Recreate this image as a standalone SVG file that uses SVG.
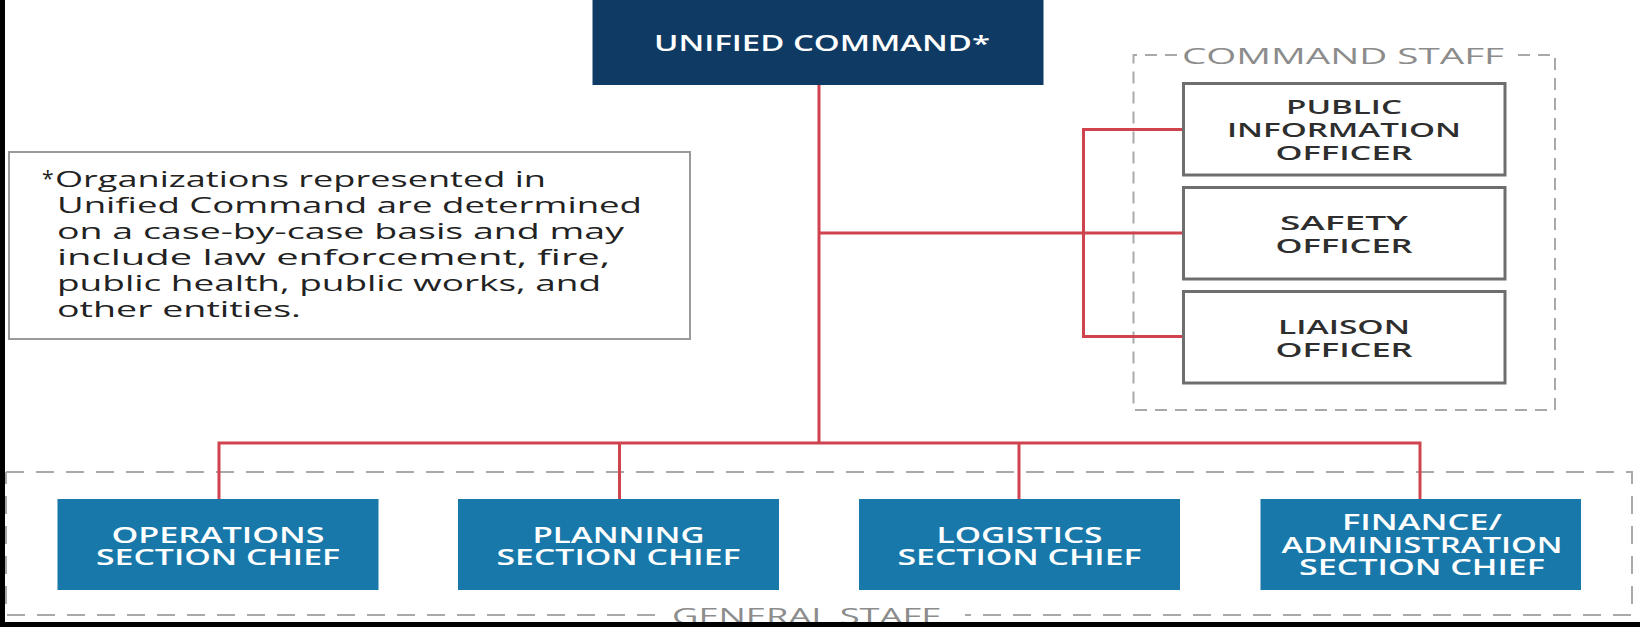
<svg xmlns="http://www.w3.org/2000/svg" width="1640" height="627" viewBox="0 0 1640 627">
<style>
.bg{fill:#ffffff}
.dash{fill:none;stroke:#a9a9a9;stroke-width:2}
.grp{font-family:"Open Sans","Liberation Sans",sans-serif;font-size:22px;fill:#8c8c8c;text-anchor:middle}
.conn{fill:none;stroke:#cf434e;stroke-width:3}
.uc{fill:#0e3a63}
.sec{fill:#1878aa}
.off{fill:#ffffff;stroke:#6e6e6e;stroke-width:3}
.wt{font-family:"Open Sans","Liberation Sans",sans-serif;font-weight:600;font-size:21px;fill:#ffffff;text-anchor:middle}
.dt{font-family:"Open Sans","Liberation Sans",sans-serif;font-weight:600;font-size:20px;fill:#2e2e2e;text-anchor:middle}
.note{fill:#ffffff;stroke:#9a9a9a;stroke-width:2}
.nt{font-family:"Open Sans","Liberation Sans",sans-serif;font-size:21px;fill:#222222}
</style>
<rect class="bg" x="0" y="0" width="1640" height="627"/>

<g id="general-staff">
  <path class="dash" d="M6,472 H1632 V615 H965 M655,615 H6 V472" stroke-dasharray="18,12"/>
  <text class="grp" x="806" y="624" textLength="268" lengthAdjust="spacingAndGlyphs">GENERAL STAFF</text>
</g>

<g id="command-staff">
  <path class="dash" d="M1177,55 H1133.5 V410 H1555 V55 H1510" stroke-dasharray="12,8"/>
  <text class="grp" x="1343" y="64" textLength="322" lengthAdjust="spacingAndGlyphs">COMMAND STAFF</text>
</g>

<g id="connectors">
  <path class="conn" d="M819,85 V443"/>
  <path class="conn" d="M219,499 V443 H1420 V499"/>
  <path class="conn" d="M619.5,443 V499"/>
  <path class="conn" d="M1019,443 V499"/>
  <path class="conn" d="M819,233 H1183"/>
  <path class="conn" d="M1183,129.5 H1083.5 V336.5 H1183"/>
</g>

<g id="unified-command">
  <rect class="uc" x="592.5" y="0" width="451" height="85"/>
  <text class="wt" x="822" y="50.5" textLength="336" lengthAdjust="spacingAndGlyphs">UNIFIED COMMAND*</text>
</g>

<g id="note">
  <rect class="note" x="9" y="152" width="681" height="187"/>
  <text class="nt" x="42" y="186" font-size="15">*</text>
  <text class="nt" x="55" y="187" textLength="491" lengthAdjust="spacingAndGlyphs">Organizations represented in</text>
  <text class="nt" x="57" y="213" textLength="585" lengthAdjust="spacingAndGlyphs">Unified Command are determined</text>
  <text class="nt" x="57" y="239" textLength="567" lengthAdjust="spacingAndGlyphs">on a case-by-case basis and may</text>
  <text class="nt" x="57" y="265" textLength="553" lengthAdjust="spacingAndGlyphs">include law enforcement, fire,</text>
  <text class="nt" x="57" y="291" textLength="544" lengthAdjust="spacingAndGlyphs">public health, public works, and</text>
  <text class="nt" x="57" y="317" textLength="244" lengthAdjust="spacingAndGlyphs">other entities.</text>
</g>

<g id="public-information-officer">
  <rect class="off" x="1183.5" y="83.5" width="321.5" height="91.5"/>
  <text class="dt" x="1344" y="113.5" textLength="116" lengthAdjust="spacingAndGlyphs">PUBLIC</text>
  <text class="dt" x="1344" y="136.5" textLength="234" lengthAdjust="spacingAndGlyphs">INFORMATION</text>
  <text class="dt" x="1344" y="159.5" textLength="137" lengthAdjust="spacingAndGlyphs">OFFICER</text>
</g>

<g id="safety-officer">
  <rect class="off" x="1183.5" y="187.5" width="321.5" height="91.5"/>
  <text class="dt" x="1344" y="229.5" textLength="128" lengthAdjust="spacingAndGlyphs">SAFETY</text>
  <text class="dt" x="1344" y="252.5" textLength="137" lengthAdjust="spacingAndGlyphs">OFFICER</text>
</g>

<g id="liaison-officer">
  <rect class="off" x="1183.5" y="291.5" width="321.5" height="91.5"/>
  <text class="dt" x="1344" y="333.5" textLength="132" lengthAdjust="spacingAndGlyphs">LIAISON</text>
  <text class="dt" x="1344" y="356.5" textLength="137" lengthAdjust="spacingAndGlyphs">OFFICER</text>
</g>

<g id="operations-section-chief">
  <rect class="sec" x="57.5" y="499" width="321" height="91"/>
  <text class="wt" x="218" y="542.5" textLength="213" lengthAdjust="spacingAndGlyphs">OPERATIONS</text>
  <text class="wt" x="218" y="565" textLength="244" lengthAdjust="spacingAndGlyphs">SECTION CHIEF</text>
</g>

<g id="planning-section-chief">
  <rect class="sec" x="458" y="499" width="321" height="91"/>
  <text class="wt" x="618.5" y="542.5" textLength="172" lengthAdjust="spacingAndGlyphs">PLANNING</text>
  <text class="wt" x="618.5" y="565" textLength="244" lengthAdjust="spacingAndGlyphs">SECTION CHIEF</text>
</g>

<g id="logistics-section-chief">
  <rect class="sec" x="859" y="499" width="321" height="91"/>
  <text class="wt" x="1019.5" y="542.5" textLength="166" lengthAdjust="spacingAndGlyphs">LOGISTICS</text>
  <text class="wt" x="1019.5" y="565" textLength="244" lengthAdjust="spacingAndGlyphs">SECTION CHIEF</text>
</g>

<g id="finance-administration-section-chief">
  <rect class="sec" x="1260.5" y="499" width="320.5" height="91"/>
  <text class="wt" x="1422" y="530" textLength="160" lengthAdjust="spacingAndGlyphs">FINANCE/</text>
  <text class="wt" x="1422" y="552.5" textLength="281" lengthAdjust="spacingAndGlyphs">ADMINISTRATION</text>
  <text class="wt" x="1422" y="575" textLength="246" lengthAdjust="spacingAndGlyphs">SECTION CHIEF</text>
</g>

<g id="frame">
  <rect x="0" y="0" width="5" height="627" fill="#000000"/>
  <rect x="0" y="622" width="1640" height="5" fill="#000000"/>
</g>
</svg>
